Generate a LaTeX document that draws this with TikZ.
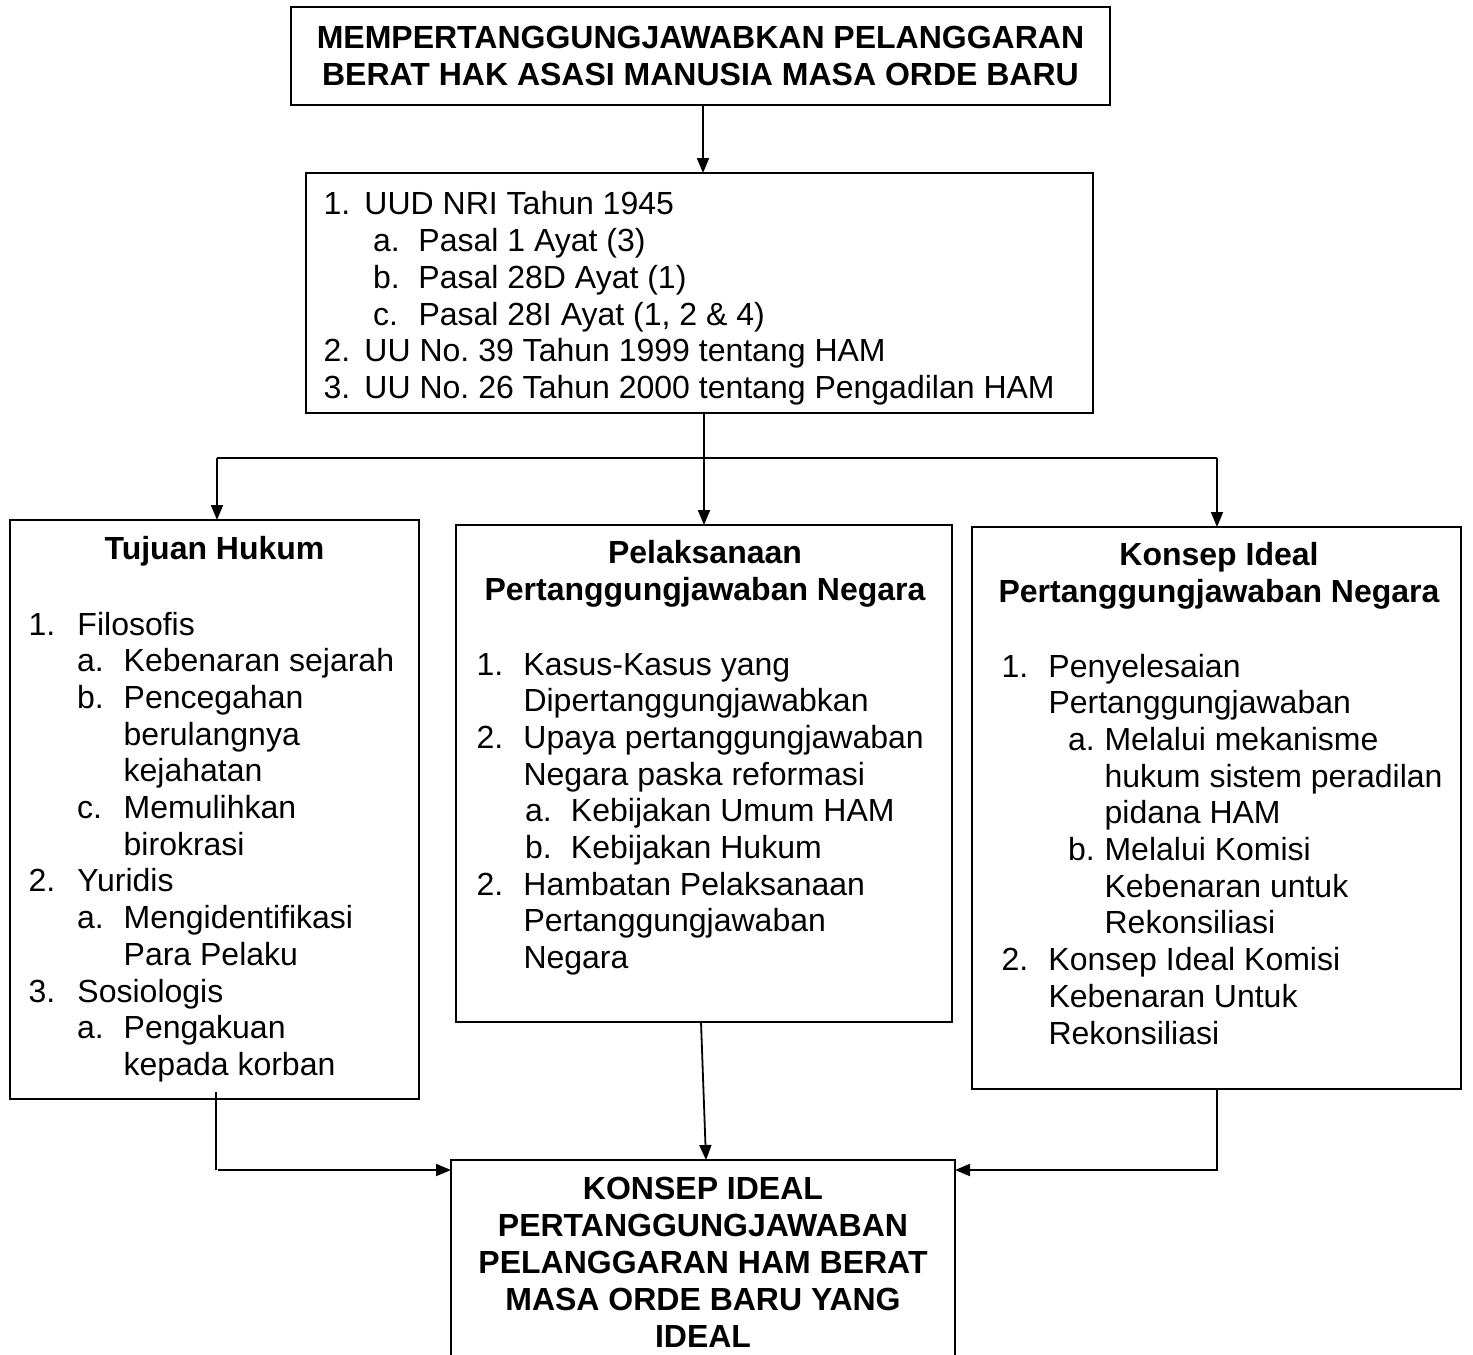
\documentclass[tikz,border=0pt]{standalone}
\usepackage{fontspec}
\setmainfont{Liberation Sans}
\usetikzlibrary{arrows.meta}
\newcommand{\fs}{\fontsize{16}{18.35}\selectfont}
\newcommand{\nb}[2]{\makebox[#1][l]{#2}}
\frenchspacing
\begin{document}
\begin{tikzpicture}[x=0.5pt,y=-0.5pt,
  box/.style={draw=black, line width=1pt, inner sep=0pt, outer sep=0pt, fill=none},
  txt/.style={inner sep=0pt, outer sep=0pt, align=left, font=\fs, anchor=north west},
  ttl/.style={inner sep=0pt, outer sep=0pt, align=center, font=\fs\bfseries, anchor=north},
  conn/.style={draw=black, line width=0.9pt},
  arr/.style={conn, -{Triangle[length=7.5pt,width=6pt]}}]
\clip (0,0) rectangle (1473,1355);
\fill[white] (0,0) rectangle (1473,1355);

% boxes
\node[box, minimum width=409.5pt, minimum height=49pt] (top) at (700.5,56) {};
\node[box, minimum width=393.5pt, minimum height=120pt] (sec) at (699.5,293) {};
\node[box, minimum width=204.5pt, minimum height=289.5pt] (lft) at (214.5,809.5) {};
\node[box, minimum width=248pt, minimum height=248.5pt] (mid) at (704,773.5) {};
\node[box, minimum width=244.5pt, minimum height=281pt] (rgt) at (1216.5,808) {};
\node[box, minimum width=252pt, minimum height=110pt] (bot) at (703,1270) {};

% texts
\node[ttl] (ttop) at (700.5,23) {\strut MEMPERTANGGUNGJAWABKAN PELANGGARAN\\BERAT HAK ASASI MANUSIA MASA ORDE BARU};

\node[txt] (tsec) at (323.5,189.3) {\strut\nb{20.5pt}{1.}UUD NRI Tahun 1945\\
\hspace{24.75pt}\nb{22.75pt}{a.}Pasal 1 Ayat (3)\\
\hspace{24.75pt}\nb{22.75pt}{b.}Pasal 28D Ayat (1)\\
\hspace{24.75pt}\nb{22.75pt}{c.}Pasal 28I Ayat (1, 2 \& 4)\\
\nb{20.5pt}{2.}UU No. 39 Tahun 1999 tentang HAM\\
\nb{20.5pt}{3.}UU No. 26 Tahun 2000 tentang Pengadilan HAM};

\node[ttl] (tlft) at (214.5,534.3) {\strut Tujuan Hukum};
\node[txt] (llft) at (28.5,609.3) {\strut\nb{24.5pt}{1.}Filosofis\\
\hspace{24.3pt}\nb{23.3pt}{a.}Kebenaran sejarah\\
\hspace{24.3pt}\nb{23.3pt}{b.}Pencegahan\\
\hspace{47.6pt}berulangnya\\
\hspace{47.6pt}kejahatan\\
\hspace{24.3pt}\nb{23.3pt}{c.}Memulihkan\\
\hspace{47.6pt}birokrasi\\
\nb{24.5pt}{2.}Yuridis\\
\hspace{24.3pt}\nb{23.3pt}{a.}Mengidentifikasi\\
\hspace{47.6pt}Para Pelaku\\
\nb{24.5pt}{3.}Sosiologis\\
\hspace{24.3pt}\nb{23.3pt}{a.}Pengakuan\\
\hspace{47.6pt}kepada korban};

\node[ttl] (tmid) at (705,538.3) {\strut Pelaksanaan\\Pertanggungjawaban Negara};
\node[txt] (lmid) at (476.5,649.3) {\strut\nb{23.5pt}{1.}Kasus-Kasus yang\\
\hspace{23.5pt}Dipertanggungjawabkan\\
\nb{23.5pt}{2.}Upaya pertanggungjawaban\\
\hspace{23.5pt}Negara paska reformasi\\
\hspace{24.25pt}\nb{23pt}{a.}Kebijakan Umum HAM\\
\hspace{24.25pt}\nb{23pt}{b.}Kebijakan Hukum\\
\nb{23.5pt}{2.}Hambatan Pelaksanaan\\
\hspace{23.5pt}Pertanggungjawaban\\
\hspace{23.5pt}Negara};

\node[ttl] (trgt) at (1219,540.3) {\strut Konsep Ideal\\Pertanggungjawaban Negara};
\node[txt] (lrgt) at (1001.5,651.3) {\strut\nb{23.5pt}{1.}Penyelesaian\\
\hspace{23.5pt}Pertanggungjawaban\\
\hspace{33.25pt}\nb{18.3pt}{a.}Melalui mekanisme\\
\hspace{51.55pt}hukum sistem peradilan\\
\hspace{51.55pt}pidana HAM\\
\hspace{33.25pt}\nb{18.3pt}{b.}Melalui Komisi\\
\hspace{51.55pt}Kebenaran untuk\\
\hspace{51.55pt}Rekonsiliasi\\
\nb{23.5pt}{2.}Konsep Ideal Komisi\\
\hspace{23.5pt}Kebenaran Untuk\\
\hspace{23.5pt}Rekonsiliasi};

\node[ttl, font=\fontsize{16}{18.5}\selectfont\bfseries] (tbot) at (703,1173.3) {\strut KONSEP IDEAL\\PERTANGGUNGJAWABAN\\PELANGGARAN HAM BERAT\\MASA ORDE BARU YANG\\IDEAL};

% connectors
\coordinate (j) at (704,458);
\coordinate (jl) at (217,458);
\coordinate (jr) at (1217,458);
\coordinate (bl) at (451,1170);
\coordinate (br) at (955,1170);
\coordinate (ls) at (216,1092);
\coordinate (rs) at (1217,1089);

\draw[arr] (top.south -| 703,0) -- (sec.north -| 703,0);
\draw[arr] (sec.south -| j) -- (mid.north -| j);
\draw[conn] (jl) -- (jr);
\draw[arr] (jl) -- (lft.north -| jl);
\draw[arr] (jr) -- (rgt.north -| jr);
\draw[arr] (mid.south -| 701,0) -- (bot.north -| 706,0);
\draw[conn] (ls) -- (ls |- bl);
\draw[arr] ([xshift=1pt]ls |- bl) -- (bl);
\draw[arr] (rs) |- (br);
\end{tikzpicture}
\end{document}
